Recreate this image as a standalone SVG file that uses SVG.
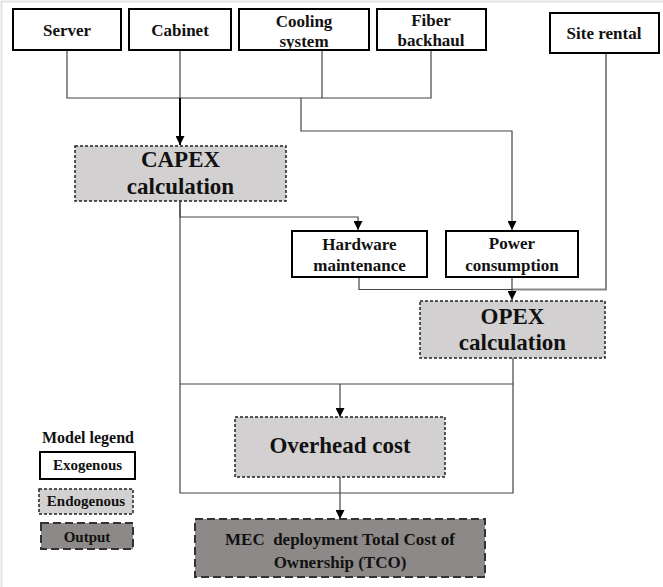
<svg xmlns="http://www.w3.org/2000/svg" width="663" height="587" viewBox="0 0 663 587" font-family="'Liberation Serif', 'DejaVu Serif', serif">
<defs>
<marker id="arr" viewBox="0 0 10 10" refX="10" refY="5" markerWidth="9" markerHeight="9" markerUnits="userSpaceOnUse" orient="auto">
<path d="M0,0 L10,5 L0,10 Z" fill="#000"/>
</marker>
<style>
text{font-family:'Liberation Serif','DejaVu Serif',serif;font-weight:bold;fill:#111;text-anchor:middle;white-space:pre}
.exo{fill:#fff;stroke:#000;stroke-width:2}
.endo{fill:#d2d0d0;stroke:#222;stroke-width:1.5;stroke-dasharray:3 2}
.out{fill:#8d8988;stroke:#333;stroke-width:2;stroke-dasharray:8 4}
.s{font-size:17px}
.m{font-size:23px}
.l{font-size:15px}
.c{fill:none;stroke:#444;stroke-width:1.2}
</style>
</defs>
<rect x="0" y="0" width="663" height="587" fill="#fff"/>
<path d="M1.5,587 V1.5 H663" fill="none" stroke="#e2e2e2" stroke-width="2"/>

<g id="connectors">
<path class="c" d="M67,50 V98 H431 V50"/>
<path class="c" d="M180,50 V98"/>
<path class="c" d="M322,50 V98"/>
<path d="M180,98 V145" fill="none" stroke="#000" stroke-width="2" marker-end="url(#arr)"/>
<path class="c" d="M301,98 V131 H512 V230" marker-end="url(#arr)"/>
<path d="M606,53 V289.5 H512" fill="none" stroke="#888" stroke-width="2"/>
<path class="c" d="M180,201 V217 H358 V230" marker-end="url(#arr)"/>
<path class="c" d="M359,277 V289.5 H512"/>
<path class="c" d="M512,277 V300" marker-end="url(#arr)"/>
<path class="c" d="M180,201 V493 H513 V358"/>
<path class="c" d="M180,384 H513"/>
<path class="c" d="M340,384 V417" marker-end="url(#arr)"/>
<path class="c" d="M340,477 V519" marker-end="url(#arr)"/>
</g>

<g id="server"><rect class="exo" x="13" y="9" width="108" height="41"/><text class="s" x="67" y="36">Server</text></g>
<g id="cabinet"><rect class="exo" x="129" y="9" width="102" height="41"/><text class="s" x="180" y="36">Cabinet</text></g>
<g id="cooling"><rect class="exo" x="239" y="9" width="130" height="41"/><text class="s" x="304" y="27">Cooling</text><text class="s" x="304" y="47">system</text></g>
<g id="fiber"><rect class="exo" x="377" y="9" width="109" height="41"/><text class="s" x="431" y="26">Fiber</text><text class="s" x="431" y="46">backhaul</text></g>
<g id="site"><rect class="exo" x="550" y="13" width="109" height="40"/><text class="s" x="604" y="39">Site rental</text></g>

<g id="capex"><rect class="endo" x="75" y="146" width="211" height="55"/><text class="m" x="180.5" y="167">CAPEX</text><text class="m" x="180.5" y="194">calculation</text></g>
<g id="hardware"><rect class="exo" x="292" y="231" width="135" height="46"/><text class="s" x="359.5" y="250">Hardware</text><text class="s" x="359.5" y="271">maintenance</text></g>
<g id="power"><rect class="exo" x="446" y="231" width="132" height="46"/><text class="s" x="512" y="249">Power</text><text class="s" x="512" y="271">consumption</text></g>
<g id="opex"><rect class="endo" x="420" y="301" width="185" height="57"/><text class="m" x="512.5" y="324">OPEX</text><text class="m" x="512.5" y="350">calculation</text></g>
<g id="overhead"><rect class="endo" x="235" y="417" width="210" height="60"/><text class="m" x="340" y="453">Overhead cost</text></g>
<g id="tco"><rect class="out" x="195" y="519" width="290" height="58"/><text class="s" x="340" y="545">MEC  deployment Total Cost of</text><text class="s" x="340" y="568">Ownership (TCO)</text></g>

<g id="legend">
<text x="88" y="443" style="font-size:16px">Model legend</text>
<rect class="exo" x="40" y="452" width="95" height="27"/><text class="l" x="87.5" y="470">Exogenous</text>
<rect class="endo" x="39" y="489" width="94" height="25"/><text class="l" x="86" y="506">Endogenous</text>
<rect class="out" x="41" y="523" width="92" height="26"/><text class="l" x="87" y="542">Output</text>
</g>
</svg>
